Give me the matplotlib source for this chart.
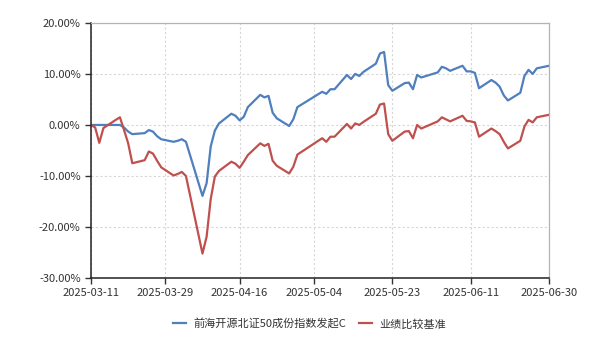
import numpy as np
import pandas as pd
import matplotlib
matplotlib.use("Agg")
import matplotlib.pyplot as plt
import matplotlib.dates as mdates
from matplotlib.ticker import FuncFormatter

plt.rcParams['font.family'] = ['Noto Sans CJK SC', 'DejaVu Sans']

dates = pd.to_datetime([
    "2025-03-11", "2025-03-12", "2025-03-13", "2025-03-14", "2025-03-17", "2025-03-18",
    "2025-03-19", "2025-03-20", "2025-03-21", "2025-03-24", "2025-03-25", "2025-03-26",
    "2025-03-27", "2025-03-28", "2025-03-31", "2025-04-01", "2025-04-02", "2025-04-03",
    "2025-04-07", "2025-04-08", "2025-04-09", "2025-04-10", "2025-04-11", "2025-04-14",
    "2025-04-15", "2025-04-16", "2025-04-17", "2025-04-18", "2025-04-21", "2025-04-22",
    "2025-04-23", "2025-04-24", "2025-04-25", "2025-04-28", "2025-04-29", "2025-04-30",
    "2025-05-06", "2025-05-07", "2025-05-08", "2025-05-09", "2025-05-12", "2025-05-13",
    "2025-05-14", "2025-05-15", "2025-05-16", "2025-05-19", "2025-05-20", "2025-05-21",
    "2025-05-22", "2025-05-23", "2025-05-26", "2025-05-27", "2025-05-28", "2025-05-29",
    "2025-05-30", "2025-06-03", "2025-06-04", "2025-06-05", "2025-06-06", "2025-06-09",
    "2025-06-10", "2025-06-11", "2025-06-12", "2025-06-13", "2025-06-16", "2025-06-17",
    "2025-06-18", "2025-06-19", "2025-06-20", "2025-06-23", "2025-06-24", "2025-06-25",
    "2025-06-26", "2025-06-27", "2025-06-30",
])

fund = [
    0.0, 0.0, 0.0, 0.0, 0.0, 0.0,
    -0.5, -1.3, -1.8, -1.6, -1.0, -1.3,
    -2.2, -2.8, -3.3, -3.1, -2.8, -3.3,
    -13.9, -11.4, -4.2, -1.1, 0.3, 2.2,
    1.8, 0.9, 1.6, 3.5, 5.9, 5.4,
    5.7, 2.4, 1.3, -0.2, 1.1, 3.5,
    6.5, 6.1, 7.0, 7.0, 9.8, 9.0,
    10.0, 9.6, 10.4, 12.0, 14.0, 14.3,
    7.8, 6.7, 8.2, 8.3, 7.0, 9.8,
    9.3, 10.3, 11.4, 11.1, 10.6, 11.6,
    10.5, 10.5, 10.2, 7.2, 8.8, 8.3,
    7.5, 5.8, 4.8, 6.3, 9.6, 10.8,
    10.0, 11.1, 11.6,
]

bench = [
    0.0, -0.5, -3.5, -0.6, 1.0, 1.5,
    -1.0, -3.6, -7.5, -6.9, -5.2, -5.6,
    -7.0, -8.3, -9.9, -9.6, -9.2, -10.0,
    -25.2, -21.9, -14.5, -10.1, -9.0, -7.2,
    -7.6, -8.4, -7.2, -5.9, -3.6, -4.1,
    -3.7, -7.0, -8.0, -9.5, -8.2, -5.8,
    -2.6, -3.3, -2.3, -2.3, 0.2, -0.7,
    0.3, 0.0, 0.6, 2.2, 4.0, 4.2,
    -1.8, -3.1, -1.3, -1.2, -2.6, 0.0,
    -0.7, 0.7, 1.5, 1.1, 0.7, 1.8,
    0.8, 0.7, 0.5, -2.3, -0.7, -1.2,
    -1.8, -3.3, -4.6, -3.1, -0.3, 1.0,
    0.5, 1.5, 2.0,
]

xticks = pd.to_datetime(["2025-03-11", "2025-03-29", "2025-04-16", "2025-05-04",
                         "2025-05-23", "2025-06-11", "2025-06-30"])
yticks = [-30, -20, -10, 0, 10, 20]

fig = plt.figure(figsize=(5.95, 3.52), dpi=100)
ax = fig.add_axes([0.153, 0.21, 0.77, 0.725])

ax.plot(dates, fund, color='#4f7fbd', lw=1.6, label='前海开源北证50成份指数发起C')
ax.plot(dates, bench, color='#c0504d', lw=1.6, label='业绩比较基准')

ax.set_xlim(xticks[0], xticks[-1])
ax.set_ylim(-30, 20)
ax.set_xticks(xticks)
ax.set_yticks(yticks)
ax.xaxis.set_major_formatter(mdates.DateFormatter('%Y-%m-%d'))
ax.yaxis.set_major_formatter(FuncFormatter(lambda v, p: f"{v:.2f}%"))
ax.tick_params(labelsize=8, length=4, width=1, colors='#333333')
ax.tick_params(axis='x', pad=3)

ax.grid(True, ls=(0, (2, 2)), color='#d6d6d6', lw=0.8)
for s in ['left', 'bottom']:
    ax.spines[s].set_color('#222222')
    ax.spines[s].set_linewidth(1.1)
for s in ['top', 'right']:
    ax.spines[s].set_color('#a9b4c6')
    ax.spines[s].set_linewidth(0.9)

leg = fig.legend(loc='center', bbox_to_anchor=(0.52, 0.08), ncol=2, frameon=False,
                 fontsize=8, handlelength=1.2, columnspacing=1.2, handletextpad=0.6)
for t in leg.get_texts():
    t.set_color('#333333')

fig.savefig('out.png', dpi=100)
